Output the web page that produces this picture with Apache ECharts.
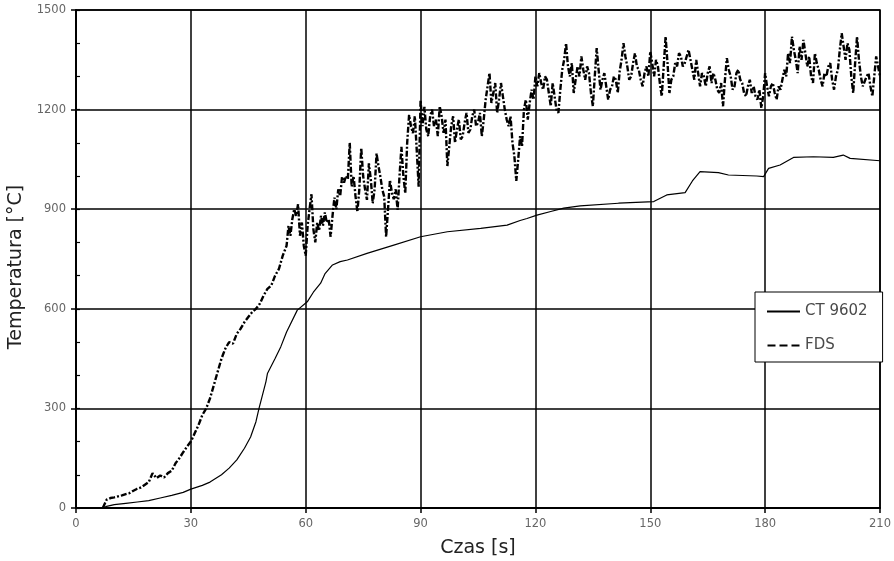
<!DOCTYPE html>
<html>
<head>
<meta charset="utf-8">
<script src="https://cdn.jsdelivr.net/npm/echarts@6/dist/echarts.min.js"></script>
<style>
  html, body { margin: 0; padding: 0; background: #fff; }
  #chart { width: 894px; height: 561px; }
</style>
</head>
<body>
<div id="chart"></div>
<script>
// Time axis ticks [s] and temperature ticks [°C]
const xTicks = [0, 30, 60, 90, 120, 150, 180, 210];
const yTicks = [0, 300, 600, 900, 1200, 1500];

// CT 9602 measurement: time [s] and temperature [°C]
const ctTime = [7, 8, 10, 13, 16, 19, 22, 25, 28, 30, 33, 35, 38, 40, 42, 44, 45.6, 47, 47.8, 49.6,
  50, 52, 53.5, 55, 57.8, 60.4, 62, 63.9, 65, 67, 69, 70.9, 76, 83, 90, 97, 105.7, 112.6, 116, 117.8,
  120.4, 124, 127.4, 131.7, 141.7, 150.9, 154.3, 159.1, 161, 163, 167.8, 170.4, 177.8, 179.6, 180.9,
  183.9, 187.4, 192.6, 197.8, 200.4, 202.2, 210];
const ctTemp = [0, 5, 10, 14, 18, 22, 30, 38, 47, 57, 68, 78, 100, 120, 145, 180, 214, 260, 300, 380,
  405, 450, 486, 530, 596, 621, 650, 677, 705, 732, 742, 747, 767, 792, 817, 832, 842, 852, 866, 872,
  882, 893, 903, 910, 918, 923, 943, 950, 985, 1013, 1010, 1003, 1000, 998, 1023,
  1033, 1056, 1058, 1056, 1063, 1053, 1046];

// FDS simulation output: 1 s samples from t = 7 s to 54 s
const fdsEarlyStart = 7;
const fdsEarlyStep = 1;
const fdsEarly = [
  0, 25, 30, 32, 35, 38, 42, 45, 52, 58, 62, 70, 78, 105, 90, 98, 92, 105, 112, 135,
  150, 168, 185, 200, 225, 250, 280, 300, 330, 370, 410, 450, 480, 500, 495, 525, 540, 560, 575, 590,
  600, 615, 640, 660, 670, 700, 720, 760];

// FDS simulation output: 0.5 s samples from t = 55 s to 210 s
const fdsLateStart = 55;
const fdsLateStep = 0.5;
const fdsLate = [
  790, 850, 820, 870, 900, 880, 915, 820, 860, 790, 760, 850, 900, 945, 840, 800, 860, 835, 880, 850,
  890, 860, 870, 817, 880, 935, 900, 960, 940, 998, 980, 1000, 990, 1100, 968, 1000, 940, 892, 960, 1085,
  1000, 960, 928, 1038, 990, 918, 960, 1068, 1030, 998, 960, 938, 817, 900, 988, 950, 930, 960, 898, 1000,
  1088, 1000, 948, 1100, 1184, 1150,
  1129, 1180, 1078, 968, 1229, 1150, 1208, 1140, 1120, 1180, 1200, 1150, 1170, 1120, 1210, 1180, 1130, 1170, 1030, 1090,
  1150, 1180, 1100, 1140, 1170, 1110, 1120, 1160, 1190, 1130, 1140, 1180, 1200, 1150, 1160, 1190, 1120, 1170, 1230, 1270,
  1310, 1220, 1250, 1280, 1190, 1230, 1280, 1240, 1200, 1170, 1150, 1180, 1100, 1060, 985, 1050, 1120, 1090, 1200, 1230,
  1170, 1220, 1260, 1230, 1300, 1270, 1310, 1280, 1260, 1300, 1290, 1250, 1210, 1280, 1240, 1200, 1190, 1260, 1320, 1350,
  1400, 1330, 1300, 1340, 1250, 1290, 1330, 1300, 1360, 1320, 1290, 1330, 1310, 1250, 1210, 1300, 1385, 1320, 1260, 1290,
  1310, 1270, 1230, 1260, 1270, 1300, 1290, 1250, 1315, 1350, 1400, 1360, 1330, 1290, 1300, 1340, 1370, 1330, 1320, 1290,
  1270, 1310, 1330, 1300, 1375, 1340, 1300, 1350, 1330, 1280, 1240, 1330, 1420, 1340, 1250, 1290, 1300, 1340, 1330, 1370,
  1360, 1330, 1340, 1360, 1380, 1350, 1320, 1290, 1350, 1310, 1270, 1310, 1300, 1270, 1310, 1330, 1280, 1310, 1290, 1260,
  1250, 1280, 1210, 1290, 1355, 1320, 1300, 1260, 1270, 1310, 1320, 1290, 1280, 1250, 1240, 1270, 1290, 1250, 1270, 1240,
  1230, 1260, 1205, 1240, 1310, 1270, 1240, 1270, 1280, 1250, 1230, 1270, 1260, 1290, 1320, 1300, 1370, 1340, 1420, 1380,
  1350, 1310, 1390, 1350, 1410, 1370, 1330, 1360, 1300, 1280, 1370, 1340, 1320, 1290, 1270, 1310, 1300, 1330, 1340, 1290,
  1260, 1300, 1320, 1380, 1430, 1390, 1350, 1400, 1380, 1300, 1250, 1340, 1420, 1350, 1300, 1270, 1270, 1300, 1310, 1270,
  1240, 1300, 1360, 1330, 1300];

const seriesNames = ['CT 9602', 'FDS'];

const ctData = ctTime.map((t, i) => [t, ctTemp[i]]);
const fdsData = fdsEarly.map((v, i) => [fdsEarlyStart + i * fdsEarlyStep, v])
  .concat(fdsLate.map((v, i) => [fdsLateStart + i * fdsLateStep, v]));

const FONT = '"DejaVu Sans", "Liberation Sans", Arial, sans-serif';
const chart = echarts.init(document.getElementById('chart'), null, { renderer: 'canvas' });

chart.setOption({
  backgroundColor: '#ffffff',
  animation: false,
  grid: {
    left: 76, right: 14, top: 10, bottom: 53,
    outerBoundsMode: 'none',
    containLabel: false,
    show: true, borderColor: '#000', borderWidth: 1.5, backgroundColor: 'transparent'
  },
  legend: {
    data: [
      { name: seriesNames[0], icon: 'path://M0,0h33v2h-33z' },
      { name: seriesNames[1], icon: 'path://M0,0h8v2h-8zM12,0h8v2h-8zM24,0h8v2h-8z' }
    ],
    orient: 'vertical',
    left: 755, top: 292,
    padding: [12, 15, 9, 12],
    itemGap: 19,
    itemWidth: 33, itemHeight: 2,
    backgroundColor: '#fff',
    borderColor: '#000', borderWidth: 1,
    textStyle: { fontFamily: FONT, fontSize: 15, color: '#4a4a4a' }
  },
  xAxis: {
    type: 'value',
    min: xTicks[0], max: xTicks[xTicks.length - 1], interval: 30,
    name: 'Czas [s]',
    nameLocation: 'middle', nameGap: 31,
    nameTextStyle: { fontFamily: FONT, fontSize: 19, color: '#222' },
    axisLine: { show: true, onZero: false, lineStyle: { color: '#000', width: 2 } },
    axisTick: { show: true, inside: false, length: 5, lineStyle: { color: '#000', width: 1.5 } },
    axisLabel: { fontFamily: FONT, fontSize: 11.5, color: '#666', margin: 10, formatter: v => String(v) },
    splitLine: { show: true, lineStyle: { color: '#000', width: 1.5 } }
  },
  yAxis: [{
    type: 'value',
    min: yTicks[0], max: yTicks[yTicks.length - 1], interval: 300,
    name: 'Temperatura [°C]',
    nameLocation: 'middle', nameGap: 50, nameRotate: 90,
    nameTextStyle: { fontFamily: FONT, fontSize: 19, color: '#222', padding: [0, 16, 0, 0] },
    axisLine: { show: true, onZero: false, lineStyle: { color: '#000', width: 2 } },
    axisTick: { show: true, inside: false, length: 5, lineStyle: { color: '#000', width: 1.5 } },
    axisLabel: { fontFamily: FONT, fontSize: 11.5, color: '#666', margin: 10, formatter: v => String(v) },
    splitLine: { show: true, lineStyle: { color: '#000', width: 1.5 } }
  }, {
    // inner minor ticks every 100 °C
    type: 'value', position: 'left', offset: 0,
    min: yTicks[0], max: yTicks[yTicks.length - 1], interval: 100,
    axisLine: { show: false },
    axisTick: { show: true, inside: true, length: 4, lineStyle: { color: '#000', width: 1.2 } },
    axisLabel: { show: false },
    splitLine: { show: false }
  }],
  series: [{
    name: seriesNames[0],
    type: 'line',
    data: ctData,
    showSymbol: false, symbol: 'none',
    lineStyle: { color: '#000', width: 1.2, type: 'solid' },
    itemStyle: { color: '#000' },
    z: 3
  }, {
    name: seriesNames[1],
    type: 'line',
    data: fdsData,
    showSymbol: false, symbol: 'none',
    lineStyle: { color: '#000', width: 2.4, type: [6, 2, 2, 2] },
    itemStyle: { color: '#000' },
    z: 4
  }]
});
</script>
</body>
</html>
